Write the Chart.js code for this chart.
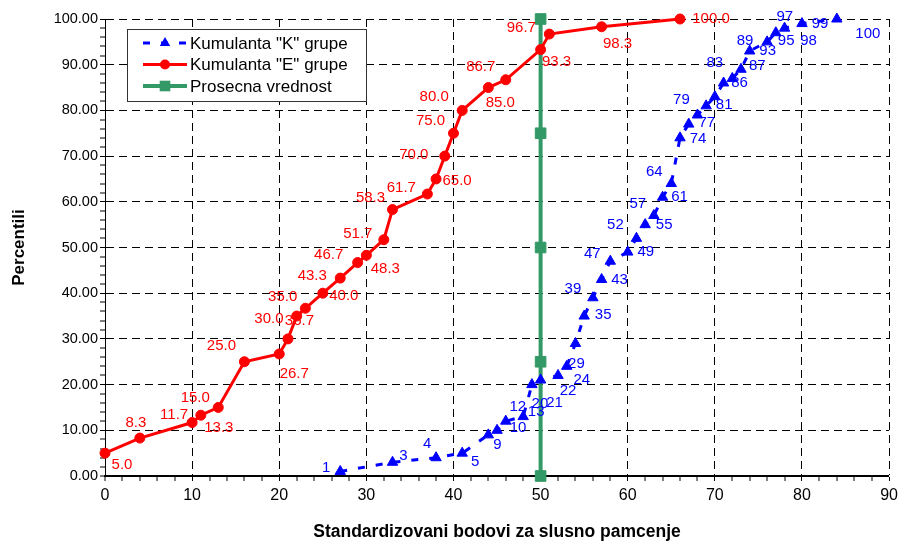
<!DOCTYPE html>
<html>
<head>
<meta charset="utf-8">
<script src="https://cdn.jsdelivr.net/npm/chart.js@4"></script>
<style>html,body{margin:0;padding:0;background:#fff}</style>
</head>
<body>
<canvas id="chart" width="903" height="541"></canvas>
<script>
// K group: score -> cumulative percentile
const kScores = [27, 33, 38, 41, 44, 45, 46, 48, 49, 50, 52, 53, 54, 55, 56, 57, 58, 60, 61, 62, 63, 64, 65, 66, 67, 68, 69, 70, 71, 72, 73, 74, 76, 77, 78, 80, 84];
const kPercent = [1, 3, 4, 5, 9, 10, 12, 13, 20, 21, 22, 24, 29, 35, 39, 43, 47, 49, 52, 55, 57, 61, 64, 74, 77, 79, 81, 83, 86, 87, 89, 93, 95, 97, 98, 99, 100];
// E group
const eScores = [0, 4, 10, 11, 13, 16, 20, 21, 22, 23, 25, 27, 29, 30, 32, 33, 37, 38, 39, 40, 41, 44, 46, 50, 51, 57, 66];
const ePercent = [5.0, 8.3, 11.7, 13.3, 15.0, 25.0, 26.7, 30.0, 35.0, 36.7, 40.0, 43.3, 46.7, 48.3, 51.7, 58.3, 61.7, 65.0, 70.0, 75.0, 80.0, 85.0, 86.7, 93.3, 96.7, 98.3, 100.0];
// mean line
const meanScore = 50;
const meanLevels = [0, 25, 50, 75, 100];

const seriesNames = ['Kumulanta "K" grupe', 'Kumulanta "E" grupe', 'Prosecna vrednost'];
const xTitle = 'Standardizovani bodovi za slusno pamcenje';
const yTitle = 'Percentili';

// where each value label sits, px from its point (centre of text)
const kLabelOffsets = [[-14,-4],[11,-6],[-9,-14],[13,9],[9,10],[21,-2],[12,-14],[13,-5],[8,19],[14,23],[10,15],[15,14],[1,20],[19,-1],[-20,-9],[18,0],[-18,-7],[18,0],[-21,-14],[19,0],[-16,-12],[17,0],[-17,-12],[18,1],[18,-1],[-16,-15],[18,-1],[0,-34],[16,0],[25,-13],[4,-28],[18,0],[19,-1],[9,-16],[24,13],[18,0],[31,15]];
const eLabelOffsets = [[17,12],[-4,-15],[-18,-8],[18,13],[-23,-10],[-23,-16],[15,20],[-19,-20],[-14,-19],[-6,13],[21,3],[-28,-2],[-29,-8],[19,14],[-26,-6],[-22,-12],[-26,-6],[21,2],[-31,-1],[-23,-12],[-28,-14],[12,15],[-25,-13],[16,12],[-28,-6],[16,17],[31,0]];

const FONT = '"Liberation Sans", Arial, sans-serif';

function drawMarker(ctx, style, x, y, r, color) {
  ctx.fillStyle = color;
  ctx.beginPath();
  if (style === 'circle') {
    ctx.arc(x, y, r, 0, Math.PI * 2);
  } else if (style === 'triangle') {
    for (let k = 0; k < 3; k++) {
      const a = k * 2 * Math.PI / 3;
      ctx[k ? 'lineTo' : 'moveTo'](x + Math.sin(a) * r, y - Math.cos(a) * r);
    }
    ctx.closePath();
  } else {
    const h = r * Math.SQRT1_2;
    ctx.rect(x - h, y - h, h * 2, h * 2);
  }
  ctx.fill();
}

const pointLabels = {
  id: 'pointLabels',
  afterDatasetsDraw(chart) {
    const ctx = chart.ctx;
    chart.data.datasets.forEach((ds, i) => {
      if (!ds.labelOffsets) return;
      const meta = chart.getDatasetMeta(i);
      ctx.save();
      ctx.font = '15px ' + FONT;
      ctx.fillStyle = ds.borderColor;
      ctx.textAlign = 'center';
      ctx.textBaseline = 'middle';
      meta.data.forEach((pt, j) => {
        const [dx, dy] = ds.labelOffsets[j];
        ctx.fillText(ds.labelFormat(ds.data[j].y), pt.x + dx, pt.y + dy);
      });
      ctx.restore();
    });
  }
};

const boxLegend = {
  id: 'boxLegend',
  afterDraw(chart) {
    const ctx = chart.ctx;
    ctx.save();
    ctx.fillStyle = '#fff';
    ctx.fillRect(127, 29, 239, 72);
    ctx.strokeStyle = '#333';
    ctx.lineWidth = 1;
    ctx.strokeRect(127.5, 29.5, 239, 72);
    chart.data.datasets.forEach((ds, i) => {
      const cy = 43 + i * 21.5;
      ctx.strokeStyle = ds.borderColor;
      ctx.lineWidth = ds.borderWidth;
      ctx.setLineDash(ds.borderDash || []);
      ctx.beginPath();
      ctx.moveTo(143, cy);
      ctx.lineTo(187, cy);
      ctx.stroke();
      ctx.setLineDash([]);
      drawMarker(ctx, ds.pointStyle, 165, cy, ds.pointRadius, ds.borderColor);
      ctx.fillStyle = '#000';
      ctx.font = '17px ' + FONT;
      ctx.textBaseline = 'middle';
      ctx.fillText(ds.label, 190, cy + 1);
    });
    ctx.restore();
  }
};

const gridWidth = c => {
  const v = c.tick ? c.tick.value : 0;
  if (v === 0 || v % 10 !== 0) return 0;
  return 1;
};

new Chart(document.getElementById('chart'), {
  type: 'scatter',
  data: {
    datasets: [
      {
        label: seriesNames[0],
        data: kScores.map((x, i) => ({ x, y: kPercent[i] })),
        showLine: true,
        borderColor: '#0000ff',
        backgroundColor: '#0000ff',
        borderWidth: 3,
        borderDash: [7, 11],
        pointStyle: 'triangle',
        pointRadius: 6,
        pointBorderWidth: 1,
        pointBorderColor: '#0000ff',
        pointBackgroundColor: '#0000ff',
        clip: false,
        labelOffsets: kLabelOffsets,
        labelFormat: v => String(v)
      },
      {
        label: seriesNames[1],
        data: eScores.map((x, i) => ({ x, y: ePercent[i] })),
        showLine: true,
        borderColor: '#ff0000',
        backgroundColor: '#ff0000',
        borderWidth: 3,
        pointStyle: 'circle',
        pointRadius: 5,
        pointBorderWidth: 1,
        pointBorderColor: '#ff0000',
        pointBackgroundColor: '#ff0000',
        clip: false,
        labelOffsets: eLabelOffsets,
        labelFormat: v => v.toFixed(1)
      },
      {
        label: seriesNames[2],
        data: meanLevels.map(y => ({ x: meanScore, y })),
        showLine: true,
        borderColor: '#339966',
        backgroundColor: '#339966',
        borderWidth: 4,
        pointStyle: 'rect',
        pointRadius: 7.5,
        pointBorderWidth: 1,
        pointBorderColor: '#339966',
        pointBackgroundColor: '#339966',
        clip: false
      }
    ]
  },
  options: {
    responsive: false,
    animation: false,
    devicePixelRatio: 1,
    layout: { padding: { left: 0, right: 13, top: 19, bottom: 0 } },
    elements: { line: { tension: 0 } },
    plugins: { legend: { display: false }, tooltip: { enabled: false } },
    scales: {
      x: {
        type: 'linear', min: 0, max: 90,
        afterFit: s => { s.height = 65; },
        ticks: {
          stepSize: 2, autoSkip: false, maxRotation: 0, padding: 5, color: '#000',
          font: { family: FONT, size: 16 },
          callback: v => (v % 10 === 0 ? String(v) : '')
        },
        grid: { color: '#000', lineWidth: gridWidth, tickWidth: 1, tickColor: '#000', tickLength: 5 },
        border: { color: '#000', width: 2, dash: [8, 5] },
        title: { display: true, text: xTitle, color: '#000', font: { family: FONT, size: 17.5, weight: 'bold' }, padding: { top: 0, bottom: -2 } }
      },
      y: {
        type: 'linear', min: 0, max: 100,
        afterFit: s => { s.width = 105; },
        ticks: {
          stepSize: 2, autoSkip: false, padding: 2, color: '#000',
          font: { family: FONT, size: 14.5 },
          callback: v => (v % 10 === 0 ? v.toFixed(2) : '')
        },
        grid: { color: '#000', lineWidth: gridWidth, tickWidth: 1, tickColor: '#000', tickLength: 5 },
        border: { color: '#000', width: 1, dash: [8, 5] },
        title: { display: true, text: yTitle, color: '#000', font: { family: FONT, size: 17, weight: 'bold' }, padding: { top: 9, bottom: 0 } }
      }
    }
  },
  plugins: [pointLabels, boxLegend]
});
</script>
</body>
</html>
